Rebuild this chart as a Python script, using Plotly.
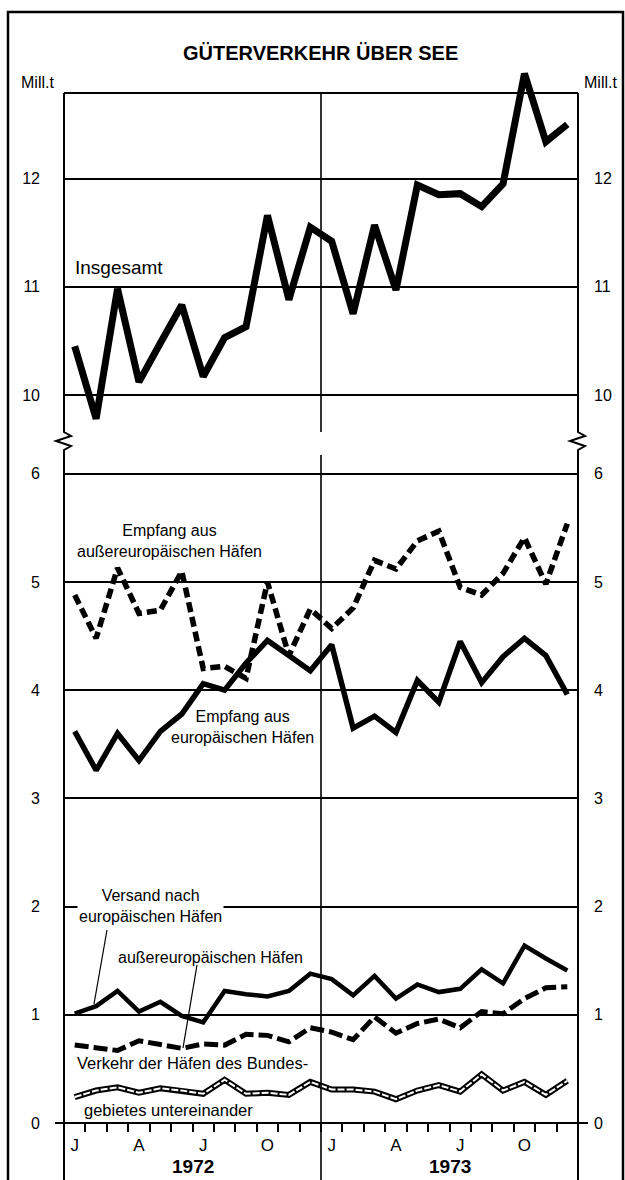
import plotly.graph_objects as go

# ---------------- data ----------------
months = ["Jan 72", "Feb 72", "Mär 72", "Apr 72", "Mai 72", "Jun 72", "Jul 72", "Aug 72",
          "Sep 72", "Okt 72", "Nov 72", "Dez 72",
          "Jan 73", "Feb 73", "Mär 73", "Apr 73", "Mai 73", "Jun 73", "Jul 73", "Aug 73",
          "Sep 73", "Okt 73", "Nov 73", "Dez 73"]
tick_pos = [0, 3, 6, 9, 12, 15, 18, 21]
tick_labels = ["J", "A", "J", "O", "J", "A", "J", "O"]
years = ["1972", "1973"]

insgesamt = [10.45, 9.78, 10.98, 10.12, 10.48, 10.83, 10.17, 10.53, 10.63, 11.66, 10.88, 11.55,
             11.42, 10.75, 11.57, 10.97, 11.94, 11.85, 11.86, 11.74, 11.95, 12.97, 12.34, 12.50]
empfang_ausser = [4.88, 4.48, 5.13, 4.71, 4.74, 5.10, 4.20, 4.22, 4.11, 5.00, 4.32, 4.75,
                  4.57, 4.76, 5.20, 5.12, 5.38, 5.47, 4.95, 4.88, 5.08, 5.41, 4.98, 5.54]
empfang_eur = [3.62, 3.26, 3.60, 3.35, 3.62, 3.78, 4.06, 4.00, 4.25, 4.46, 4.32, 4.18,
               4.42, 3.65, 3.76, 3.61, 4.09, 3.89, 4.45, 4.07, 4.31, 4.48, 4.32, 3.96]
versand_eur = [1.01, 1.08, 1.22, 1.03, 1.12, 0.99, 0.93, 1.22, 1.19, 1.17, 1.22, 1.38,
               1.33, 1.18, 1.36, 1.15, 1.28, 1.21, 1.24, 1.42, 1.29, 1.64, 1.52, 1.41]
versand_ausser = [0.72, 0.70, 0.67, 0.76, 0.72, 0.69, 0.73, 0.72, 0.82, 0.81, 0.75, 0.88,
                  0.84, 0.77, 0.98, 0.83, 0.92, 0.96, 0.88, 1.03, 1.01, 1.15, 1.25, 1.26]
binnen = [0.24, 0.30, 0.33, 0.28, 0.32, 0.30, 0.27, 0.40, 0.27, 0.28, 0.26, 0.38,
          0.31, 0.31, 0.29, 0.22, 0.30, 0.35, 0.29, 0.45, 0.30, 0.38, 0.26, 0.39]

upper_ticks = [10, 11, 12]
lower_ticks = [0, 1, 2, 3, 4, 5, 6]

# ---------------- geometry (pixels) ----------------
W, H = 625, 1180
L, R, T, B = 64, 578, 60, 1123
PW, PH = R - L, B - T
UNIT = 108.2            # px per Mill.t
Y12 = 178.5             # pixel of 12 in upper panel
UP_BOT, UP_TOP = 432, 93
LO_TOP = 455


def px(x):
    return (x - L) / PW


def py(y):
    return (B - y) / PH


up_range = [12 - (UP_BOT - Y12) / UNIT, 12 + (Y12 - T) / UNIT]
lo_range = [0, (B - LO_TOP) / UNIT]

FONT = "Liberation Sans, Arial, sans-serif"
x = list(range(len(months)))

fig = go.Figure()

fig.add_trace(go.Scatter(x=x, y=insgesamt, mode="lines", yaxis="y",
                         line=dict(color="black", width=7), showlegend=False))
fig.add_trace(go.Scatter(x=x, y=empfang_ausser, mode="lines", yaxis="y2",
                         line=dict(color="black", width=5.5, dash="10px,5px"), showlegend=False))
fig.add_trace(go.Scatter(x=x, y=empfang_eur, mode="lines", yaxis="y2",
                         line=dict(color="black", width=5.5), showlegend=False))
fig.add_trace(go.Scatter(x=x, y=versand_eur, mode="lines", yaxis="y2",
                         line=dict(color="black", width=4.5), showlegend=False))
fig.add_trace(go.Scatter(x=x, y=versand_ausser, mode="lines", yaxis="y2",
                         line=dict(color="black", width=5, dash="14px,5px"), showlegend=False))
fig.add_trace(go.Scatter(x=x, y=binnen, mode="lines", yaxis="y2",
                         line=dict(color="black", width=6), showlegend=False))
fig.add_trace(go.Scatter(x=x, y=binnen, mode="lines", yaxis="y2",
                         line=dict(color="white", width=2, dash="7px,2px"), showlegend=False))
# dummy traces to register right-hand axes
fig.add_trace(go.Scatter(x=[None], y=[None], yaxis="y3", showlegend=False))
fig.add_trace(go.Scatter(x=[None], y=[None], yaxis="y4", showlegend=False))

tickfont = dict(family=FONT, size=16, color="black")
up_dom = [py(UP_BOT), 1]
lo_dom = [0, py(LO_TOP)]

common_y = dict(showgrid=True, gridcolor="black", gridwidth=1.6, zeroline=False,
                showline=False, ticks="", tickfont=tickfont, automargin=False,
                fixedrange=True)

fig.update_layout(
    width=W, height=H, autosize=False,
    margin=dict(l=L, r=W - R, t=T, b=H - B, pad=0),
    paper_bgcolor="white", plot_bgcolor="white",
    showlegend=False,
    xaxis=dict(domain=[0, 1], range=[-0.5, 23.5], anchor="y2",
               tickmode="array", tickvals=tick_pos, ticktext=tick_labels,
               ticks="", showgrid=False, zeroline=False, showline=False,
               tickfont=dict(family=FONT, size=17, color="black"),
               ticklabelstandoff=10, automargin=False,
               minor=dict(tickmode="linear", tick0=-0.5, dtick=1, ticks="outside",
                          ticklen=8, tickwidth=2, tickcolor="black", showgrid=False)),
    yaxis=dict(domain=up_dom, range=up_range, tickmode="array", tickvals=upper_ticks,
               anchor="x", ticklabelstandoff=23, **common_y),
    yaxis2=dict(domain=lo_dom, range=lo_range, tickmode="array", tickvals=lower_ticks,
                anchor="x", ticklabelstandoff=23, **common_y),
    yaxis3=dict(overlaying="y", side="right", range=up_range, tickmode="array",
                tickvals=upper_ticks, anchor="x", showgrid=False, zeroline=False,
                showline=False, ticks="", tickfont=tickfont, ticklabelstandoff=15,
                automargin=False),
    yaxis4=dict(overlaying="y2", side="right", range=lo_range, tickmode="array",
                tickvals=lower_ticks, anchor="x", showgrid=False, zeroline=False,
                showline=False, ticks="", tickfont=tickfont, ticklabelstandoff=15,
                automargin=False),
)

# ---------------- frame and panel borders ----------------
shapes = []
lw = 2


def seg(x0, y0, x1, y1, w=lw):
    shapes.append(dict(type="line", xref="paper", yref="paper",
                       x0=px(x0), y0=py(y0), x1=px(x1), y1=py(y1),
                       line=dict(color="black", width=w)))


def path(points, w=lw):
    d = "M " + " L ".join(f"{px(a):.5f},{py(b):.5f}" for a, b in points)
    shapes.append(dict(type="path", xref="paper", yref="paper", path=d,
                       line=dict(color="black", width=w)))


# outer frame
path([(8, H + 5), (8, 12), (623, 12), (623, H + 5)], w=2.5)
# upper box top
seg(L, UP_TOP, R, UP_TOP)
# left / right borders with break zigzag
for xb in (L, R):
    path([(xb, UP_TOP), (xb, 432), (xb + 7, 436), (xb - 8, 441), (xb + 7, 446),
          (xb, 450), (xb, H + 5)], w=lw)
# year divider
XM = (L + R) / 2
seg(XM, UP_TOP, XM, 432, w=1.6)
seg(XM, LO_TOP, XM, H + 5, w=1.6)
# zero line extension
seg(55, B, 588, B, w=2)
# leader lines
seg(107, 930, 94, 1004, w=1.2)
seg(197, 965, 183, 1048, w=1.2)

fig.update_layout(shapes=shapes)

# ---------------- texts ----------------
tf = dict(family=FONT, size=16, color="black")
ann = []


def text(t, xp, yp, xanchor="center", font=tf, bg=None):
    a = dict(text=t, x=px(xp), y=py(yp), xref="paper", yref="paper",
             xanchor=xanchor, yanchor="middle", showarrow=False, font=font, align="center")
    if bg:
        a["bgcolor"] = bg
    ann.append(a)


text("<b>GÜTERVERKEHR ÜBER SEE</b>", 320, 53, font=dict(family=FONT, size=20, color="black"))
text("Mill.t", 19, 82, xanchor="left", font=dict(family=FONT, size=16, color="black"))
text("Mill.t", 582, 82, xanchor="left", font=dict(family=FONT, size=16, color="black"))
text("Insgesamt", 73, 268, xanchor="left", font=dict(family=FONT, size=19, color="black"))
text("Empfang aus<br>außereuropäischen Häfen", 169, 541)
text("Empfang aus<br>europäischen Häfen", 242, 727)
text("Versand nach<br>europäischen Häfen", 150, 906, bg="white")
text("außereuropäischen Häfen", 210, 957)
text("Verkehr der Häfen des Bundes-", 75, 1063, xanchor="left", font=dict(family=FONT, size=16.5, color="black"))
text("gebietes untereinander", 82, 1110, xanchor="left", font=dict(family=FONT, size=16.5, color="black"))
for i, yr in enumerate(years):
    text(f"<b>{yr}</b>", L + PW * (i + 0.5) / len(years), 1166,
         font=dict(family=FONT, size=19, color="black"))

fig.update_layout(annotations=ann)

fig.write_html(
    "out.html",
    config={"displayModeBar": False},
    post_script="document.body.style.margin='0px';document.body.style.overflow='hidden';",
)
